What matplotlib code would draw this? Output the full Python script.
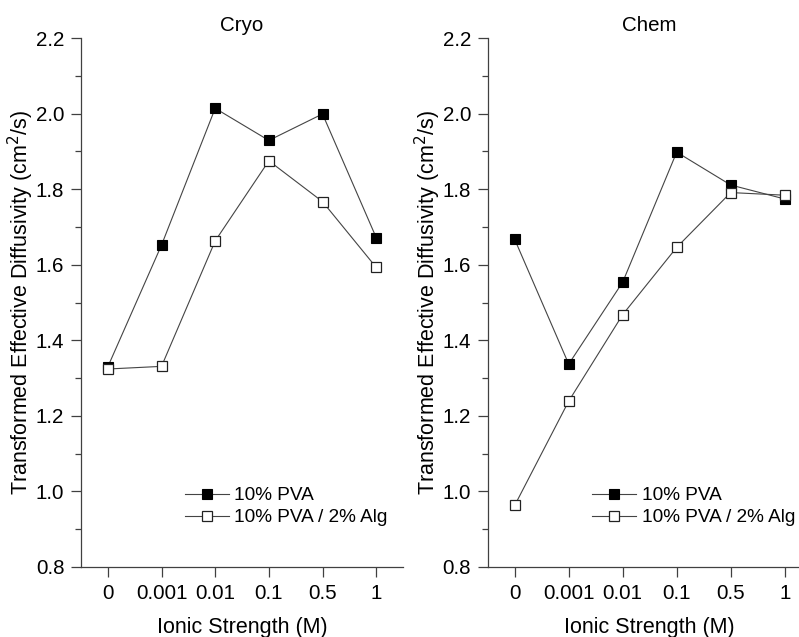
import matplotlib
matplotlib.use("Agg")
import matplotlib.pyplot as plt
from matplotlib.ticker import MultipleLocator

plt.rcParams['font.family'] = ['Liberation Sans', 'DejaVu Sans']

ionic = ["0", "0.001", "0.01", "0.1", "0.5", "1"]

cryo_pva = [1.33, 1.652, 2.014, 1.929, 1.999, 1.672]
cryo_alg = [1.324, 1.331, 1.663, 1.875, 1.767, 1.593]

chem_pva = [1.667, 1.337, 1.554, 1.898, 1.811, 1.774]
chem_alg = [0.963, 1.239, 1.468, 1.646, 1.791, 1.784]

panels = [("Cryo", cryo_pva, cryo_alg), ("Chem", chem_pva, chem_alg)]
positions = [[0.1014, 0.1099, 0.403, 0.8304], [0.6104, 0.1099, 0.4055, 0.8304]]

fig = plt.figure(figsize=(7.99, 6.37), dpi=100)

spine_col = "#404040"
line_col = "#444444"
fs = 14.8      # ticks, titles
fs_lab = 15.5  # axis labels
fs_leg = 13.7  # legend

for (title, pva, alg), pos in zip(panels, positions):
    ax = fig.add_axes(pos)
    x = range(len(ionic))
    ax.plot(x, pva, color=line_col, lw=0.8, marker="s", ms=7.2,
            mfc="black", mec="black", mew=0.8, label="10% PVA")
    ax.plot(x, alg, color=line_col, lw=0.8, marker="s", ms=7.2,
            mfc="white", mec="#222222", mew=0.9, label="10% PVA / 2% Alg")

    ax.set_xlim(-0.5, 5.5)
    ax.set_ylim(0.8, 2.2)
    ax.set_xticks(list(x))
    ax.set_xticklabels(ionic)
    ax.yaxis.set_major_locator(MultipleLocator(0.2))
    ax.yaxis.set_minor_locator(MultipleLocator(0.1))
    ax.yaxis.set_major_formatter(matplotlib.ticker.FormatStrFormatter("%.1f"))

    for s in ["top", "right"]:
        ax.spines[s].set_visible(False)
    for s in ["left", "bottom"]:
        ax.spines[s].set_color(spine_col)
        ax.spines[s].set_linewidth(0.9)

    ax.tick_params(axis="both", which="major", direction="out", length=7,
                   width=0.9, color=spine_col, labelsize=fs, pad=5)
    ax.tick_params(axis="y", which="minor", direction="out", length=4,
                   width=0.9, color=spine_col)

    ax.set_title(title, fontsize=fs, pad=5)
    ax.set_xlabel("Ionic Strength (M)", fontsize=fs_lab, labelpad=10)
    ax.set_ylabel("Transformed Effective Diffusivity (cm$^2$/s)", fontsize=fs_lab, labelpad=0)

    ax.legend(loc="upper left", bbox_to_anchor=(0.323, 0.151), frameon=False,
              fontsize=fs_leg, handlelength=2.3, handletextpad=0.3,
              labelspacing=0.24, borderpad=0, borderaxespad=0)

fig.savefig("out.png", dpi=100)
